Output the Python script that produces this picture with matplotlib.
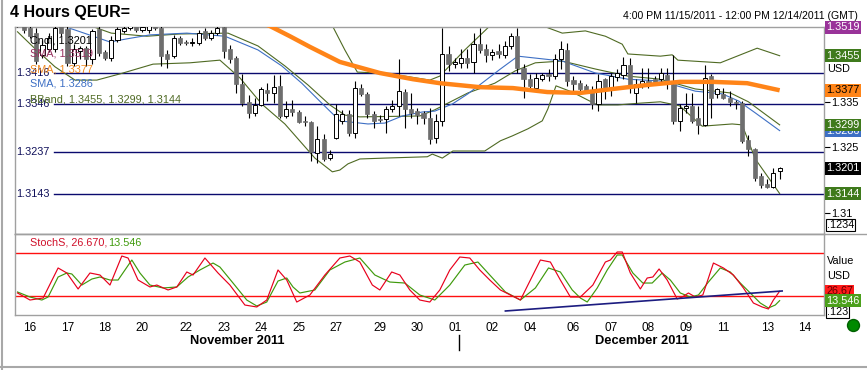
import numpy as np
import matplotlib.pyplot as plt
import matplotlib.transforms as mtransforms
from matplotlib.patches import Rectangle
from matplotlib.lines import Line2D

plt.rcParams['font.family'] = ['Liberation Sans', 'DejaVu Sans']

# 4 hour candles, bar 0 = 11/15 16:00 GMT
opens = [1.3536, 1.3531, 1.3518, 1.3506, 1.3457, 1.3470, 1.3470, 1.3524, 1.3515, 1.3439,
         1.3466, 1.3472, 1.3448, 1.3515, 1.3463, 1.3450, 1.3490, 1.3511, 1.3518, 1.3524,
         1.3513, 1.3513, 1.3527, 1.3518, 1.3459, 1.3454, 1.3495, 1.3486, 1.3484, 1.3484,
         1.3511, 1.3495, 1.3506, 1.3520, 1.3470, 1.3450, 1.3391, 1.3351, 1.3326, 1.3344,
         1.3378, 1.3371, 1.3387, 1.3319, 1.3335, 1.3328, 1.3308, 1.3305, 1.3236, 1.3267,
         1.3224, 1.3269, 1.3308, 1.3323, 1.3281, 1.3382, 1.3369, 1.3323, 1.3312, 1.3312,
         1.3335, 1.3342, 1.3373, 1.3335, 1.3330, 1.3326, 1.3314, 1.3269, 1.3308, 1.3459,
         1.3436, 1.3439, 1.3450, 1.3441, 1.3481, 1.3470, 1.3457, 1.3466, 1.3457, 1.3477,
         1.3499, 1.3427, 1.3402, 1.3382, 1.3402, 1.3414, 1.3409, 1.3448, 1.3468, 1.3400,
         1.3393, 1.3387, 1.3375, 1.3346, 1.3402, 1.3380, 1.3407, 1.3411, 1.3434, 1.3371,
         1.3391, 1.3398, 1.3402, 1.3402, 1.3411, 1.3391, 1.3308, 1.3337, 1.3342, 1.3314,
         1.3299, 1.3409, 1.3369, 1.3369, 1.3360, 1.3351, 1.3348, 1.3265, 1.3245, 1.3184,
         1.3166, 1.3159, 1.3195]
highs = [1.3545, 1.3540, 1.3527, 1.3518, 1.3490, 1.3506, 1.3531, 1.3536, 1.3522, 1.3481,
         1.3477, 1.3477, 1.3515, 1.3522, 1.3468, 1.3499, 1.3520, 1.3524, 1.3536, 1.3531,
         1.3527, 1.3531, 1.3536, 1.3524, 1.3468, 1.3502, 1.3499, 1.3490, 1.3495, 1.3513,
         1.3518, 1.3513, 1.3522, 1.3522, 1.3479, 1.3454, 1.3414, 1.3366, 1.3360, 1.3384,
         1.3393, 1.3411, 1.3411, 1.3353, 1.3355, 1.3333, 1.3319, 1.3308, 1.3296, 1.3278,
         1.3242, 1.3346, 1.3333, 1.3333, 1.3398, 1.3391, 1.3373, 1.3330, 1.3321, 1.3342,
         1.3355, 1.3448, 1.3380, 1.3371, 1.3337, 1.3330, 1.3337, 1.3323, 1.3518, 1.3477,
         1.3450, 1.3470, 1.3470, 1.3506, 1.3518, 1.3481, 1.3470, 1.3481, 1.3488, 1.3506,
         1.3518, 1.3436, 1.3414, 1.3416, 1.3416, 1.3425, 1.3459, 1.3488, 1.3484, 1.3409,
         1.3400, 1.3391, 1.3387, 1.3414, 1.3405, 1.3416, 1.3425, 1.3452, 1.3450, 1.3402,
         1.3427, 1.3427, 1.3409, 1.3427, 1.3427, 1.3457, 1.3346, 1.3371, 1.3371, 1.3342,
         1.3434, 1.3414, 1.3382, 1.3382, 1.3375, 1.3355, 1.3353, 1.3276, 1.3247, 1.3190,
         1.3177, 1.3202, 1.3204]
lows = [1.3520, 1.3506, 1.3495, 1.3436, 1.3450, 1.3463, 1.3463, 1.3499, 1.3432, 1.3432,
        1.3448, 1.3432, 1.3436, 1.3454, 1.3445, 1.3443, 1.3486, 1.3506, 1.3513, 1.3509,
        1.3509, 1.3506, 1.3513, 1.3432, 1.3427, 1.3450, 1.3479, 1.3479, 1.3477, 1.3479,
        1.3490, 1.3490, 1.3502, 1.3450, 1.3439, 1.3371, 1.3342, 1.3314, 1.3319, 1.3342,
        1.3353, 1.3348, 1.3314, 1.3314, 1.3319, 1.3303, 1.3296, 1.3217, 1.3213, 1.3217,
        1.3220, 1.3267, 1.3301, 1.3274, 1.3269, 1.3364, 1.3314, 1.3292, 1.3305, 1.3281,
        1.3328, 1.3319, 1.3292, 1.3314, 1.3301, 1.3301, 1.3256, 1.3258, 1.3296, 1.3421,
        1.3427, 1.3427, 1.3427, 1.3416, 1.3461, 1.3441, 1.3445, 1.3450, 1.3450, 1.3470,
        1.3416, 1.3360, 1.3382, 1.3375, 1.3398, 1.3398, 1.3402, 1.3425, 1.3387, 1.3375,
        1.3375, 1.3371, 1.3335, 1.3330, 1.3357, 1.3364, 1.3398, 1.3402, 1.3371, 1.3348,
        1.3382, 1.3382, 1.3391, 1.3393, 1.3380, 1.3301, 1.3285, 1.3326, 1.3303, 1.3278,
        1.3296, 1.3314, 1.3360, 1.3357, 1.3342, 1.3335, 1.3258, 1.3229, 1.3172, 1.3157,
        1.3157, 1.3157, 1.3177]
closes = [1.3527, 1.3513, 1.3499, 1.3443, 1.3479, 1.3495, 1.3518, 1.3506, 1.3439, 1.3470,
          1.3472, 1.3448, 1.3511, 1.3461, 1.3450, 1.3490, 1.3515, 1.3518, 1.3527, 1.3513,
          1.3520, 1.3522, 1.3518, 1.3454, 1.3448, 1.3495, 1.3484, 1.3484, 1.3486, 1.3506,
          1.3495, 1.3506, 1.3518, 1.3466, 1.3448, 1.3391, 1.3348, 1.3326, 1.3344, 1.3380,
          1.3371, 1.3384, 1.3319, 1.3335, 1.3328, 1.3305, 1.3305, 1.3238, 1.3267, 1.3222,
          1.3233, 1.3323, 1.3323, 1.3281, 1.3382, 1.3369, 1.3323, 1.3308, 1.3310, 1.3335,
          1.3342, 1.3375, 1.3335, 1.3326, 1.3321, 1.3314, 1.3267, 1.3308, 1.3459, 1.3436,
          1.3441, 1.3450, 1.3439, 1.3481, 1.3468, 1.3457, 1.3463, 1.3459, 1.3477, 1.3499,
          1.3427, 1.3402, 1.3387, 1.3405, 1.3411, 1.3409, 1.3448, 1.3470, 1.3398, 1.3391,
          1.3380, 1.3375, 1.3346, 1.3398, 1.3380, 1.3409, 1.3416, 1.3434, 1.3382, 1.3391,
          1.3398, 1.3393, 1.3396, 1.3416, 1.3393, 1.3308, 1.3337, 1.3342, 1.3308, 1.3299,
          1.3405, 1.3360, 1.3380, 1.3360, 1.3351, 1.3348, 1.3263, 1.3245, 1.3179, 1.3163,
          1.3159, 1.3190, 1.3201]

# indicators (bar index, price)
sma_long_idx = [36, 40.4, 43.6, 46.8, 51.6, 58, 63.3, 67.6, 74, 79.3, 84.8, 90.1, 95.3, 100.8, 106, 111.3, 116.8, 122]
sma_long = [1.3545, 1.3522, 1.3499, 1.3475, 1.3441, 1.3416, 1.3402, 1.3393, 1.3384, 1.3382,
            1.3373, 1.3371, 1.3380, 1.3389, 1.3396, 1.3396, 1.3393, 1.3377]
sma_short_idx = [6.8, 9.2, 14.8, 17.5, 21.2, 27.1, 33.2, 38.5, 42.3, 45.5, 48.7, 51.6, 56.1, 58.8,
                 61.6, 64.8, 66.8, 69.6, 72.1, 74.8, 77.3, 80.1, 87.2, 92.5, 97.7, 102.9, 108.5,
                 112.8, 115.4, 118.1, 122]
sma_short = [1.3524, 1.3513, 1.3486, 1.3493, 1.3502, 1.3506, 1.3499, 1.3468, 1.3432, 1.3393,
             1.3348, 1.3308, 1.3301, 1.3303, 1.3319, 1.3328, 1.3330, 1.3346, 1.3369, 1.3398,
             1.3425, 1.3454, 1.3443, 1.3416, 1.3402, 1.3398, 1.3375, 1.3369, 1.3353, 1.3326, 1.3286]
bb_mid_idx = [6.8, 11.8, 15, 20.7, 25.9, 33.7, 38.5, 42.8, 46.5, 50, 52.4, 54.8, 64.4, 66.8, 72.1,
              76.4, 79.7, 82.9, 87.2, 92.5, 97.7, 102.9, 108.5, 114.1, 117, 122]
bb_mid = [1.3536, 1.3522, 1.3506, 1.3499, 1.3504, 1.3506, 1.3477, 1.3432, 1.3389, 1.3344, 1.3321,
          1.3317, 1.3319, 1.3333, 1.3371, 1.3393, 1.3421, 1.3439, 1.3443, 1.3425, 1.3409, 1.3402,
          1.3380, 1.3371, 1.3351, 1.3299]
bb_up_idx = [49.2, 50.5, 52.4, 54.4, 58, 62, 66, 67.6, 71.6, 75.3, 76.4, 80.4, 84.9, 87.2, 90.9,
             94.1, 96.8, 97.7, 102.9, 104.8, 105.7, 112.5, 118.4, 122]
bb_up = [1.3536, 1.3520, 1.3468, 1.3418, 1.3416, 1.3409, 1.3400, 1.3409, 1.3468, 1.3518, 1.3536,
         1.3558, 1.3518, 1.3506, 1.3511, 1.3499, 1.3481, 1.3459, 1.3454, 1.3457, 1.3445, 1.3439,
         1.3472, 1.3455]
bb_low_idx = [0, 2.5, 6, 9.2, 12.7, 16.4, 21.7, 27.6, 32.4, 35.6, 39.1, 42.8, 47.6, 50.4, 51.6,
              52.9, 54.8, 58.8, 65.6, 66.4, 68, 69.7, 74.8, 77.3, 79.2, 81.7, 84, 84.9, 86.2,
              88.8, 92.8, 96.1, 99.7, 102.9, 106, 109.6, 114.4, 116, 118.1, 122]
bb_low = [1.3509, 1.3475, 1.3430, 1.3400, 1.3400, 1.3414, 1.3436, 1.3439, 1.3445, 1.3405, 1.3346,
          1.3301, 1.3224, 1.3193, 1.3197, 1.3211, 1.3222, 1.3224, 1.3227, 1.3233, 1.3224, 1.3240,
          1.3240, 1.3263, 1.3274, 1.3290, 1.3308, 1.3335, 1.3387, 1.3373, 1.3344, 1.3344, 1.3348,
          1.3351, 1.3342, 1.3296, 1.3301, 1.3299, 1.3222, 1.3144]

levels = [1.3416, 1.3346, 1.3237, 1.3143]

# slow stochastic
k_idx = [0, 2, 4.1, 6.5, 7.9, 9.7, 11.6, 13.2, 14.8, 16.7, 17.7, 19.3, 21.2, 22.3, 24.1, 25.5,
         27.1, 28.1, 30, 32.1, 34, 36.4, 38.3, 39.9, 41.7, 43.1, 44.7, 46.8, 49.2, 51.6, 53.2,
         54.8, 56.8, 58, 59.9, 61.2, 62.8, 64.4, 66, 67.6, 69.2, 70.8, 72.4, 74, 75.6, 77.3,
         78.9, 80.5, 82.1, 83.7, 85.3, 86.9, 88.5, 90.1, 92.1, 94.1, 94.9, 96, 96.8, 98.1, 99.7,
         100.8, 101.7, 102.7, 104, 105.6, 106.4, 107.4, 108.5, 109.7, 111.4, 113, 114.6, 116.2,
         117.8, 119.2, 120.2, 121, 122]
k_val = [24.2, 14.4, 17.2, 59.1, 52.1, 29.8, 52.1, 49.3, 35.3, 75.8, 73.0, 42.3, 32.6, 35.3, 28.4,
         32.6, 53.5, 49.3, 73.0, 52.1, 35.3, 7.4, 4.7, 14.4, 56.3, 42.3, 11.6, 21.4, 49.3, 73.0,
         75.8, 67.4, 35.3, 28.4, 53.5, 49.3, 28.4, 14.4, 11.6, 28.4, 56.3, 74.4, 73.0, 56.3, 42.3,
         28.4, 21.4, 14.4, 42.3, 70.2, 67.4, 42.3, 18.6, 18.6, 35.3, 67.4, 70.2, 81.4, 81.4, 52.1,
         29.8, 45.1, 46.5, 57.7, 42.3, 15.8, 18.6, 24.2, 18.6, 21.4, 66.0, 59.1, 49.3, 31.2, 10.2,
         4.7, 1.9, 14.4, 26.67]
d_idx = [0, 2, 3.9, 4.9, 6.5, 7.9, 8.7, 10.3, 11.9, 13.2, 14.8, 16.1, 18.3, 19.6, 21.2, 23.3,
         25.5, 27.3, 29.2, 31.3, 32.4, 34.5, 36.7, 38.3, 39.9, 41.7, 43.1, 44.1, 45.2, 47.6, 50,
         52.4, 54.8, 57.2, 59.6, 62, 64.4, 66.8, 69.2, 71.6, 73.7, 75.6, 78.1, 80.5, 82.9, 85,
         86.9, 88.8, 90.1, 91.2, 92.8, 94.4, 96, 96.8, 98.5, 100.1, 101.6, 103.2, 104.5, 106.1,
         107.7, 109, 110.6, 112.5, 114.1, 115.7, 117.3, 118.9, 120.2, 121.3, 122]
d_val = [25.6, 18.6, 14.4, 18.6, 46.5, 52.1, 50.7, 35.3, 43.7, 46.5, 42.3, 42.3, 70.2, 52.1, 35.3,
         31.2, 32.6, 46.5, 56.3, 66.0, 60.4, 38.1, 14.4, 6.1, 11.6, 40.9, 45.1, 32.6, 24.2, 28.4,
         56.3, 67.4, 73.0, 49.3, 39.5, 38.1, 21.4, 14.4, 35.3, 63.2, 67.4, 49.3, 25.6, 14.4, 31.2,
         59.1, 53.5, 28.4, 17.2, 11.6, 31.2, 56.3, 77.2, 77.2, 52.1, 38.1, 38.1, 52.1, 42.3, 24.2,
         18.6, 21.4, 39.5, 59.1, 53.5, 38.1, 24.2, 10.2, 3.3, 7.4, 13.546]
trend_idx = [78.1, 122.4]
trend_val = [-0.9, 27.0]

day_labels = ['16', '17', '18', '20', '22', '23', '24', '25', '27', '29', '30',
              '01', '02', '04', '06', '07', '08', '09', '11', '13', '14']
day_idx = [2, 8, 14, 20, 27, 33, 39, 45, 51, 58, 64, 70, 76, 82, 89, 95, 101, 107, 113, 120, 126]

W, H = 867, 370
fig = plt.figure(figsize=(W / 100, H / 100), dpi=100)
fig.patch.set_facecolor('white')


def fx(px):
    return px / W


def fy(py):
    return 1 - py / H


ax = fig.add_axes([fx(15), fy(234), fx(824) - fx(15), fy(27) - fy(234)])
ax2 = fig.add_axes([fx(15), fy(315), fx(824) - fx(15), fy(234) - fy(315)])

for a in (ax, ax2):
    a.set_xlim(-0.4, 129.1)
    for s in a.spines.values():
        s.set_color('#a0a0a0')
        s.set_linewidth(1)

ax.set_ylim(1.30527, 1.35198)
ax2.set_ylim(-6.5, 106.5)

# candles
for i in range(len(opens)):
    o, h, l, c = opens[i], highs[i], lows[i], closes[i]
    ax.vlines(i, l, h, color='black', lw=0.8, zorder=3)
    bottom = min(o, c)
    height = max(abs(c - o), 0.00008)
    if c < o:
        ax.add_patch(Rectangle((i - 0.33, bottom), 0.66, height, fc='#6e6e6e', ec='#6e6e6e', lw=0.5, zorder=4))
    else:
        ax.add_patch(Rectangle((i - 0.33, bottom), 0.66, height, fc='white', ec='black', lw=0.7, zorder=4))

# indicators
ax.plot(bb_up_idx, bb_up, color='#4f6a23', lw=0.8, zorder=2)
ax.plot(bb_mid_idx, bb_mid, color='#4f6a23', lw=0.8, zorder=2)
ax.plot(bb_low_idx, bb_low, color='#4f6a23', lw=0.8, zorder=2)
ax.plot(sma_short_idx, sma_short, color='#3d6fc4', lw=0.8, zorder=2)
ax.plot(sma_long_idx, sma_long, color='#ff8418', lw=3.2, zorder=5, solid_capstyle='butt')

x0 = (54 - 15) / 809
for lv in levels:
    ax.axhline(lv, xmin=x0, xmax=1, color='#0a0a6e', lw=1, zorder=1)
    ax.text(0.002, lv, f'{lv:.4f}', transform=mtransforms.blended_transform_factory(ax.transAxes, ax.transData),
            ha='left', va='center', fontsize=7.8, color='#10105a', zorder=6)

ax.set_xticks([])
ax.yaxis.tick_right()
ax.set_yticks([1.31, 1.325, 1.335])
ax.set_yticklabels(['1.31', '1.325', '1.335'])
ax.tick_params(axis='y', length=4, width=0.8, pad=1, labelsize=7.8, colors='black')

# legend texts
leg = [('Cndl, 1.3201', 'black', 0.937), ('SMA, 1.3519', '#98305f', 0.874),
       ('SMA, 1.3377', '#f08a20', 0.797), ('SMA, 1.3286', '#3d6fc4', 0.725),
       ('BBand, 1.3455, 1.3299, 1.3144', '#4f6a23', 0.652)]
for txt, col, yy in leg:
    ax.text(0.0185, yy, txt, transform=ax.transAxes, fontsize=7.8, color=col, va='center', ha='left', zorder=7)

# right value boxes
tr = mtransforms.blended_transform_factory(ax.transAxes, ax.transData)
boxes = [(1.3519, '1.3519', '#993399', 'white'), (1.3455, '1.3455', '#3f7a1c', 'white'),
         (1.3377, '1.3377', '#ff8418', 'black'), (1.3286, '1.3286', '#3d6fc4', 'white'),
         (1.3299, '1.3299', '#3f7a1c', 'white'), (1.3201, '1.3201', 'black', 'white'),
         (1.3144, '1.3144', '#3f7a1c', 'white')]
for val, txt, fc, tc in boxes:
    ax.text(1.0025, val, txt, transform=tr, fontsize=7.8, color=tc, ha='left', va='center',
            bbox=dict(boxstyle='square,pad=0.12', fc=fc, ec='none'), clip_on=False, zorder=8)
ax.text(1.0035, 0.795, 'USD', transform=ax.transAxes, fontsize=7.8, ha='left', va='center')
ax.text(1.0035, 1.3073, '.1234', transform=tr, fontsize=7.8, ha='left', va='center',
        bbox=dict(boxstyle='square,pad=0.1', fc='white', ec='black', lw=0.8))

# stochastic panel
ax2.axhline(80, color='#ff1010', lw=1)
ax2.axhline(20, color='#ff1010', lw=1)
ax2.plot(d_idx, d_val, color='#3f9a0c', lw=0.85)
ax2.plot(k_idx, k_val, color='#e8001c', lw=0.85)
ax2.plot(trend_idx, trend_val, color='#1c1c80', lw=1.2)
ax2.set_yticks([])
ax2.text(0.0185, 0.889, 'StochS, 26.670,', transform=ax2.transAxes, fontsize=7.8, color='#d0102a',
         va='center', ha='left')
ax2.text(0.1155, 0.889, '13.546', transform=ax2.transAxes, fontsize=7.8, color='#3f9a0c',
         va='center', ha='left')
tr2 = mtransforms.blended_transform_factory(ax2.transAxes, ax2.transData)
ax2.text(1.0035, 69.5, 'Value', transform=tr2, fontsize=7.8, ha='left', va='center')
ax2.text(1.0035, 48.0, 'USD', transform=tr2, fontsize=7.8, ha='left', va='center')
ax2.text(1.0035, -2.0, '.123', transform=tr2, fontsize=7.8, ha='left', va='center',
         bbox=dict(boxstyle='square,pad=0.1', fc='white', ec='black', lw=0.8), clip_on=False)
ax2.text(1.0025, 26.67, '26.67', transform=tr2, fontsize=7.8, color='#600000', ha='left', va='center',
         bbox=dict(boxstyle='square,pad=0.12', fc='#ff1a1a', ec='none'), clip_on=False, zorder=8)
ax2.text(1.0025, 13.546, '13.546', transform=tr2, fontsize=7.8, color='white', ha='left', va='center',
         bbox=dict(boxstyle='square,pad=0.12', fc='#4ca01c', ec='none'), clip_on=False, zorder=9)

ax2.set_xticks(day_idx)
ax2.set_xticklabels(day_labels)
ax2.tick_params(axis='x', length=0, pad=5, labelsize=8.5)

trx = mtransforms.blended_transform_factory(ax2.transData, ax2.transAxes)
ax2.text(35.2, -0.32, 'November 2011', transform=trx, fontsize=9.3, fontweight='bold', ha='center', va='center')
ax2.text(100, -0.32, 'December 2011', transform=trx, fontsize=9.3, fontweight='bold', ha='center', va='center')
ax2.plot([70.6, 70.6], [-0.25, -0.43], transform=trx, color='black', lw=1, clip_on=False)
ax2.plot([1.036], [-0.123], transform=ax2.transAxes, marker='o', ms=8.6, color='#008a00',
         mec='#006000', clip_on=False)

# frame lines
fig.add_artist(Line2D([fx(15), 1], [fy(234), fy(234)], color='#a0a0a0', lw=1))
fig.add_artist(Line2D([fx(1.5), fx(1.5)], [0, 1], color='#a8a8a8', lw=1.5))
fig.add_artist(Line2D([0, 1], [fy(367), fy(367)], color='#a8a8a8', lw=1.5))

fig.text(fx(10), fy(13), '4 Hours QEUR=', fontsize=11.5, fontweight='bold', ha='left', va='center')
fig.text(fx(858), fy(16), '4:00 PM 11/15/2011 - 12:00 PM 12/14/2011 (GMT)', fontsize=7.6,
         ha='right', va='center')

fig.savefig('out.png', dpi=100)
